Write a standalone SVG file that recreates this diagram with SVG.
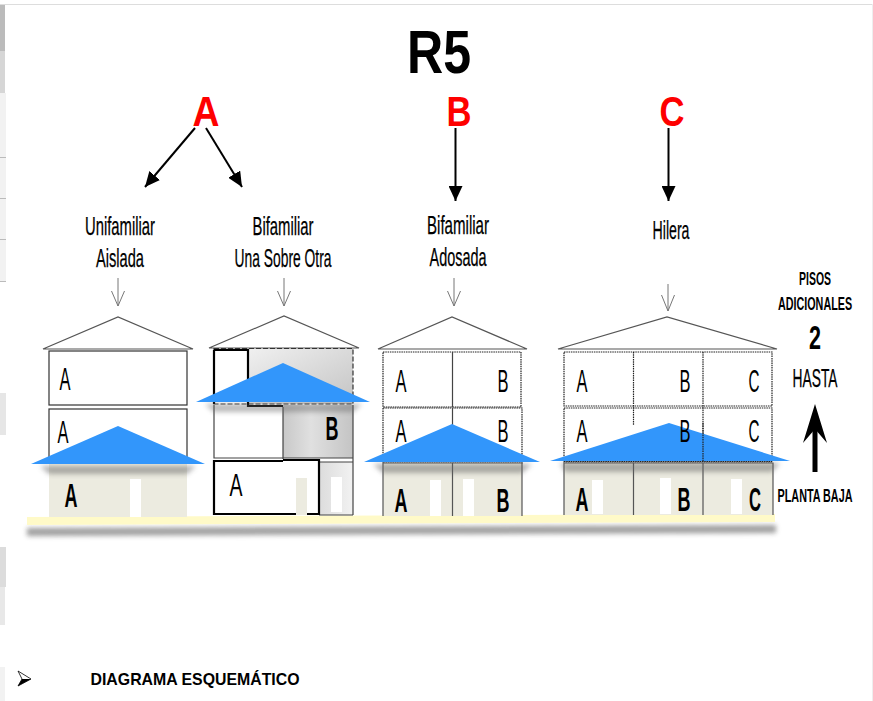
<svg xmlns="http://www.w3.org/2000/svg" width="873" height="701" viewBox="0 0 873 701">
<style>
text{font-family:"Liberation Sans",Arial,sans-serif;fill:#000;text-anchor:middle}
.b{font-weight:bold}
.t{font-size:25px;stroke:#000;stroke-width:.25}
.u{font-size:32px}
.g{font-size:34px;font-weight:bold}
.r{fill:#fe0000;font-weight:bold;font-size:42px}
.w{fill:#fff;stroke:#333;stroke-width:1.2}
.d{fill:none;stroke:#222;stroke-width:1.2;stroke-dasharray:1.5 .8}
.l{fill:none;stroke:#444;stroke-width:1.2}
.roof{fill:#fff;stroke:#555;stroke-width:1.2}
.blue{fill:#3296fb}
.beige{fill:#ecebe0}
.win{fill:#fff}
.conn{stroke:#000;stroke-width:2;fill:none}
.thin{stroke:#777;stroke-width:1;fill:none}
.k{fill:none;stroke:#000;stroke-width:2.2}
</style>
<defs>
<marker id="ah" markerUnits="userSpaceOnUse" markerWidth="16" markerHeight="14" refX="15" refY="7" orient="auto"><path d="M0 0L15 7L0 14z" fill="#000"/></marker>
<linearGradient id="g1" x1="0" y1="0" x2="1" y2="1"><stop offset="0" stop-color="#f0f0f0"/><stop offset="1" stop-color="#c4c4c4"/></linearGradient>
<linearGradient id="g2" x1="0" y1="0" x2="1" y2="0"><stop offset="0" stop-color="#c8c8c8"/><stop offset=".4" stop-color="#e0e0e0"/><stop offset="1" stop-color="#c4c4c4"/></linearGradient>
<linearGradient id="g3" x1="0" y1="0" x2="1" y2="0"><stop offset="0" stop-color="#dcdcdc"/><stop offset="1" stop-color="#f2f2f2"/></linearGradient>
<filter id="sh" x="-10%" y="-60%" width="120%" height="220%"><feGaussianBlur stdDeviation="2.5"/></filter>
</defs>
<rect width="873" height="701" fill="#fff"/>
<g id="page-edge">
<path d="M0 4.500H873" stroke="#ddd" fill="none"/>
<path d="M872.500 4V701" stroke="#eee" fill="none"/>
<rect x="0" y="5" width="5" height="46" fill="#bbb"/>
<rect x="0" y="51" width="5" height="42" fill="#d6d6d6"/>
<rect x="0" y="93" width="6" height="188" fill="#f2f2f2"/>
<path d="M0 157.500H6M0 198.500H6M0 239.500H6M0 281.500H6" stroke="#bbb" fill="none"/>
<rect x="0" y="393" width="6" height="42" fill="#e6e6e6"/>
<rect x="0" y="547" width="6" height="40" fill="#dcdcdc"/>
<rect x="0" y="587" width="5" height="38" fill="#e8e8e8"/>
<rect x="0" y="667" width="5" height="34" fill="#f2f2f2"/>
</g>
<g id="titulo"><text class="b" x="439" y="73" font-size="62" textLength="64" lengthAdjust="spacingAndGlyphs">R5</text></g>
<g id="etiqueta-A"><text class="r" x="206" y="126" textLength="27" lengthAdjust="spacingAndGlyphs">A</text></g>
<g id="etiqueta-B"><text class="r" x="459" y="126" textLength="25" lengthAdjust="spacingAndGlyphs">B</text></g>
<g id="etiqueta-C"><text class="r" x="672" y="126" textLength="25" lengthAdjust="spacingAndGlyphs">C</text></g>
<g id="conectores">
<path class="conn" d="M195 128L145 187" marker-end="url(#ah)"/>
<path class="conn" d="M206 128L242 187" marker-end="url(#ah)"/>
<path class="conn" d="M455.500 128V201" marker-end="url(#ah)"/>
<path class="conn" d="M668.500 128V201" marker-end="url(#ah)"/>
<path class="thin" d="M118 278V306M111.500 291L118 306L124.500 291"/>
<path class="thin" d="M284 278V306M277.500 291L284 306L290.500 291"/>
<path class="thin" d="M454 278V306M447.500 291L454 306L460.500 291"/>
<path class="thin" d="M668 284V311M661.500 295L668 311L674.500 295"/>
<path d="M815 472V418" stroke="#000" stroke-width="5" fill="none"/>
<path d="M815 404L827 443L815 429L803 443z" fill="#000"/>
</g>
<g id="suelo">
<path d="M27 528L776 525V533L27 536z" fill="#777" opacity=".7" filter="url(#sh)"/>
<path d="M27 517L775 514V522L27 525z" fill="#fffac8"/>
</g>
<g id="casa-unifamiliar">
<text class="t" x="120" y="235" textLength="70" lengthAdjust="spacingAndGlyphs">Unifamiliar</text>
<text class="t" x="120" y="267" textLength="48" lengthAdjust="spacingAndGlyphs">Aislada</text>
<path class="roof" d="M43 349L118 317L193 349z"/>
<rect class="w" x="49" y="351" width="138" height="54"/>
<rect class="w" x="49" y="409" width="138" height="54"/>
<text class="u" x="65" y="390" textLength="11" lengthAdjust="spacingAndGlyphs">A</text>
<text class="u" x="63" y="443" textLength="11" lengthAdjust="spacingAndGlyphs">A</text>
<rect class="beige" x="49" y="464" width="138" height="53"/>
<rect class="win" x="130" y="479" width="11" height="38"/>
<text class="g" x="71" y="507" textLength="13" lengthAdjust="spacingAndGlyphs">A</text>
<path d="M40 466L196 466L187 474H49z" fill="#666" opacity=".5" filter="url(#sh)"/>
<path class="blue" d="M31 464L118 426L205 464z"/>
</g>
<g id="casa-bifamiliar-sobre">
<text class="t" x="283" y="235" textLength="61" lengthAdjust="spacingAndGlyphs">Bifamiliar</text>
<text class="t" x="283" y="267" textLength="97" lengthAdjust="spacingAndGlyphs">Una Sobre Otra</text>
<path class="roof" d="M209 348L284 316L359 348z"/>
<rect x="248" y="349" width="105" height="55" fill="url(#g1)"/>
<rect x="283" y="405" width="70" height="53" fill="url(#g2)"/>
<rect x="319" y="462" width="34" height="53" fill="url(#g3)"/>
<path class="l" d="M214 405V458H283M214 458H353M353 405V515M319 515H353M319 462H353M283 407V459"/>
<path d="M214 348.500H353V404H214z" fill="none" stroke="#333" stroke-width="1.200" stroke-dasharray="5 2"/>
<path class="k" d="M214 350H248V406H283M283 460H319V514H214V461H283M214 350V404"/>
<rect class="beige" x="296" y="478" width="11" height="37"/>
<rect class="win" x="331" y="477" width="11" height="35"/>
<text class="u" x="236" y="496" textLength="13" lengthAdjust="spacingAndGlyphs">A</text>
<text class="g" x="332" y="440" textLength="13" lengthAdjust="spacingAndGlyphs" font-weight="bold">B</text>
<path d="M205 404H362L353 412H214z" fill="#666" opacity=".45" filter="url(#sh)"/>
<path class="blue" d="M196 402L283 363L370 402z"/>
</g>
<g id="casa-bifamiliar-adosada">
<text class="t" x="458" y="234" textLength="62" lengthAdjust="spacingAndGlyphs">Bifamiliar</text>
<text class="t" x="458" y="266" textLength="57" lengthAdjust="spacingAndGlyphs">Adosada</text>
<path class="roof" d="M378 349L452 317L527 349z"/>
<rect class="d" x="383" y="352" width="138" height="55"/>
<rect class="d" x="383" y="408" width="139" height="55"/>
<path class="l" d="M452.500 352V407M452.500 408V425"/>
<text class="u" x="401" y="392" textLength="11" lengthAdjust="spacingAndGlyphs">A</text>
<text class="u" x="503" y="392" textLength="11" lengthAdjust="spacingAndGlyphs">B</text>
<text class="u" x="401" y="442" textLength="11" lengthAdjust="spacingAndGlyphs">A</text>
<text class="u" x="503" y="442" textLength="11" lengthAdjust="spacingAndGlyphs">B</text>
<rect class="beige" x="383" y="463" width="139" height="53"/>
<path d="M383 516V463H522V516M452.500 463V516" fill="none" stroke="#555" stroke-width="1.200"/>
<rect class="win" x="430" y="480" width="11" height="36"/>
<rect class="win" x="463" y="479" width="11" height="37"/>
<text class="g" x="401" y="512" textLength="13" lengthAdjust="spacingAndGlyphs">A</text>
<text class="g" x="503" y="512" textLength="13" lengthAdjust="spacingAndGlyphs">B</text>
<path d="M373 464H532L522 473H383z" fill="#666" opacity=".5" filter="url(#sh)"/>
<path class="blue" d="M364 462L452 424L540 462z"/>
</g>
<g id="casa-hilera">
<text class="t" x="671" y="239" textLength="37" lengthAdjust="spacingAndGlyphs">Hilera</text>
<path class="roof" d="M558 349L667 317L777 349z"/>
<rect class="d" x="564" y="352" width="208" height="54"/>
<rect class="d" x="564" y="408" width="208" height="54"/>
<path d="M633.500 352V425M703 352V462" class="d"/>
<text class="u" x="582" y="392" textLength="11" lengthAdjust="spacingAndGlyphs">A</text>
<text class="u" x="685" y="392" textLength="11" lengthAdjust="spacingAndGlyphs">B</text>
<text class="u" x="754" y="392" textLength="11" lengthAdjust="spacingAndGlyphs">C</text>
<text class="u" x="582" y="442" textLength="11" lengthAdjust="spacingAndGlyphs">A</text>
<text class="u" x="754" y="442" textLength="11" lengthAdjust="spacingAndGlyphs">C</text>
<rect class="beige" x="564" y="463" width="209" height="52"/>
<path d="M564 515V463H773V515M633.500 463V515M703 463V515" fill="none" stroke="#555" stroke-width="1.200"/>
<rect class="win" x="592" y="480" width="11" height="34"/>
<rect class="win" x="660" y="478" width="11" height="36"/>
<rect class="win" x="731" y="479" width="11" height="35"/>
<text class="g" x="582" y="511" textLength="13" lengthAdjust="spacingAndGlyphs">A</text>
<text class="g" x="684" y="511" textLength="13" lengthAdjust="spacingAndGlyphs">B</text>
<text class="g" x="755" y="511" textLength="12" lengthAdjust="spacingAndGlyphs">C</text>
<path d="M560 463H780L772 472H565z" fill="#666" opacity=".5" filter="url(#sh)"/>
<path class="blue" d="M550 461L669 423L790 461z"/>
<path class="d" d="M703 423V462M564 461.500H772"/>
<text class="u" x="685" y="442" textLength="11" lengthAdjust="spacingAndGlyphs">B</text>
</g>
<g id="leyenda-pisos">
<text class="b" font-size="19" transform="translate(815 285) scale(.55 1)">PISOS</text>
<text class="b" font-size="19" transform="translate(815 310) scale(.567 1)">ADICIONALES</text>
<text class="b" x="815" y="349" font-size="34" textLength="12" lengthAdjust="spacingAndGlyphs">2</text>
<text class="t" x="815" y="387" textLength="45" lengthAdjust="spacingAndGlyphs">HASTA</text>
<text class="b" font-size="19" transform="translate(815 502) scale(.568 1)">PLANTA BAJA</text>
</g>
<g id="pie">
<path d="M18 671L31 679L18 686L22 679z" fill="#fff" stroke="#000" stroke-width=".8"/>
<path d="M18 686L22 679H31z" fill="#000"/>
<text class="b" x="195" y="685" font-size="17" textLength="209" lengthAdjust="spacingAndGlyphs">DIAGRAMA ESQUEMÁTICO</text>
</g>
</svg>
